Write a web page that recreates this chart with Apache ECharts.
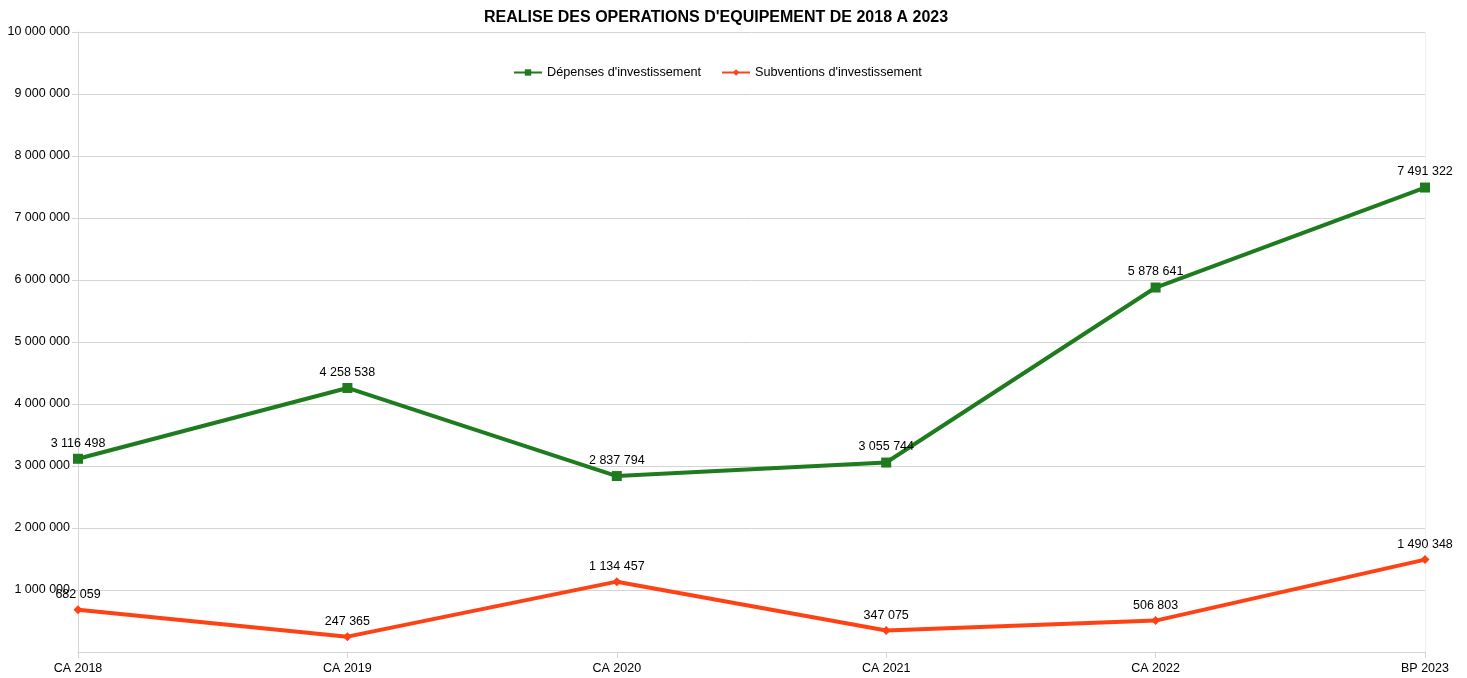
<!DOCTYPE html>
<html lang="fr">
<head>
    <meta charset="UTF-8">
    <title>Réalisé des opérations d'équipement</title>
    <style>
        html, body { margin: 0; padding: 0; width: 100%; height: 100%; background: #fff; }
        #main { width: 1467px; height: 678px; }
    </style>
</head>
<body>
    <div id="main"></div>
    <script src="https://cdn.jsdelivr.net/npm/echarts@6/dist/echarts.min.js"></script>
    <script type="text/javascript">
        var categories = ['CA 2018', 'CA 2019', 'CA 2020', 'CA 2021', 'CA 2022', 'BP 2023'];
        var depenses = [3116498, 4258538, 2837794, 3055744, 5878641, 7491322];
        var subventions = [682059, 247365, 1134457, 347075, 506803, 1490348];

        // 1234567 -> "1 234 567"
        function fmt(v) {
            return String(Math.round(v)).replace(/\B(?=(\d{3})+(?!\d))/g, ' ');
        }

        var font = 'Liberation Sans, Arial, sans-serif';
        var myChart = echarts.init(document.getElementById('main'));
        var option = {
            animation: false,
            title: {
                text: "REALISE DES OPERATIONS D'EQUIPEMENT DE 2018 A 2023",
                left: 479,
                top: 5,
                textStyle: { fontFamily: font, fontSize: 16, fontWeight: 'bold', color: '#000' }
            },
            legend: {
                top: 61,
                left: 508,
                itemGap: 20,
                itemWidth: 28,
                itemHeight: 8,
                textStyle: { fontFamily: font, fontSize: 12.7, color: '#000' },
                data: ["Dépenses d'investissement", "Subventions d'investissement"]
            },
            grid: { left: 78, right: 42, top: 32, bottom: 26 },
            xAxis: {
                type: 'category',
                boundaryGap: false,
                data: categories,
                axisLine: { lineStyle: { color: '#d4d4d4' } },
                axisTick: { show: true, length: 6, lineStyle: { color: '#d4d4d4' } },
                axisLabel: { fontFamily: font, fontSize: 12.5, color: '#000', margin: 10 }
            },
            yAxis: [{
                type: 'value',
                min: 0,
                max: 10000000,
                interval: 1000000,
                axisLine: { show: true, lineStyle: { color: '#d4d4d4' } },
                axisTick: { show: true, length: 6, lineStyle: { color: '#d4d4d4' } },
                splitLine: { lineStyle: { color: '#d4d4d4' } },
                axisLabel: {
                    fontFamily: font, fontSize: 12.5, color: '#000', margin: 8,
                    showMinLabel: false,
                    formatter: fmt
                }
            }, {
                type: 'value',
                position: 'right',
                min: 0,
                max: 10000000,
                interval: 1000000,
                axisLine: { show: true, lineStyle: { color: '#f0f0f0' } },
                axisTick: { show: false },
                splitLine: { show: false },
                axisLabel: { show: false }
            }],
            series: [{
                name: "Dépenses d'investissement",
                type: 'line',
                data: depenses,
                symbol: 'rect',
                symbolSize: 10,
                color: '#1e7b1e',
                lineStyle: { width: 4, color: '#1e7b1e' },
                itemStyle: { color: '#1e7b1e' },
                label: {
                    show: true, position: 'top', distance: 4,
                    fontFamily: font, fontSize: 12.5, color: '#000',
                    formatter: function (p) { return fmt(p.value); }
                }
            }, {
                name: "Subventions d'investissement",
                type: 'line',
                data: subventions,
                symbol: 'diamond',
                symbolSize: 9,
                color: '#ff4214',
                lineStyle: { width: 4, color: '#ff4214' },
                itemStyle: { color: '#ff4214' },
                label: {
                    show: true, position: 'top', distance: 4,
                    fontFamily: font, fontSize: 12.5, color: '#000',
                    formatter: function (p) { return fmt(p.value); }
                }
            }]
        };
        myChart.setOption(option);
        window.addEventListener('resize', function () {
            myChart.resize();
        });
    </script>
</body>
</html>
